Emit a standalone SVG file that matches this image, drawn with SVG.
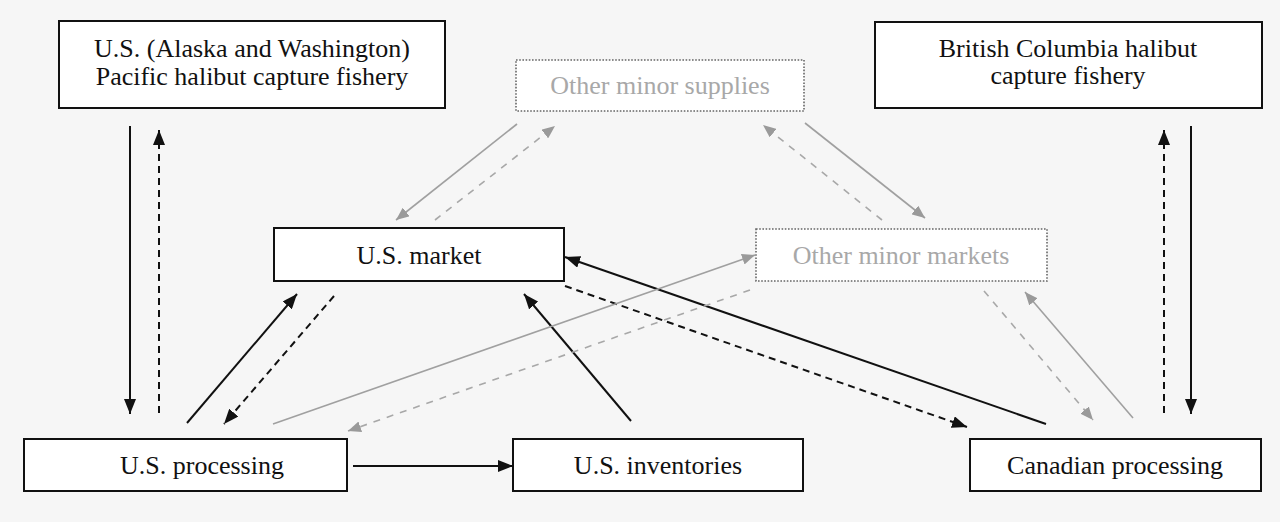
<svg xmlns="http://www.w3.org/2000/svg" width="1280" height="522" viewBox="0 0 1280 522">
<defs>
<style>
.box{fill:#ffffff;stroke:#111;stroke-width:2}
.dbox{fill:#ffffff;stroke:#666;stroke-width:1.6;stroke-dasharray:1.6 1.6}
.t{font-family:"Liberation Serif","Times New Roman",serif;font-size:26px;fill:#111;text-anchor:middle}
.tg{font-family:"Liberation Serif","Times New Roman",serif;font-size:26px;fill:#a8a8a8;text-anchor:middle}
.s{stroke:#111;stroke-width:2;fill:none;marker-end:url(#ab)}
.d{stroke:#111;stroke-width:2;fill:none;stroke-dasharray:7 5;marker-end:url(#ab)}
.gs{stroke:#a0a0a0;stroke-width:1.6;fill:none;marker-end:url(#ag)}
.gd{stroke:#a8a8a8;stroke-width:1.6;fill:none;stroke-dasharray:7 7;marker-end:url(#ag)}
</style>
<marker id="ab" markerUnits="userSpaceOnUse" markerWidth="15" markerHeight="12" refX="15" refY="6" orient="auto">
<path d="M0,0 L15,6 L0,12 z" fill="#111"/>
</marker>
<marker id="ag" markerUnits="userSpaceOnUse" markerWidth="13" markerHeight="11" refX="13" refY="5.5" orient="auto">
<path d="M0,0 L13,5.5 L0,11 z" fill="#9a9a9a"/>
</marker>
</defs>
<rect x="0" y="0" width="1280" height="522" fill="#f6f6f6"/>
<g id="connectors">
<line class="s" x1="130" y1="126" x2="130" y2="414"/>
<line class="d" x1="159" y1="413" x2="159" y2="130"/>
<line class="s" x1="1191" y1="126" x2="1191" y2="414"/>
<line class="d" x1="1164" y1="413" x2="1164" y2="130"/>
<line class="s" x1="187" y1="423" x2="297" y2="294"/>
<line class="d" x1="334" y1="296" x2="224" y2="424"/>
<line class="s" x1="353" y1="466" x2="513" y2="466"/>
<line class="s" x1="631" y1="421" x2="524" y2="294"/>
<line class="s" x1="1046" y1="424" x2="565" y2="257"/>
<line class="d" x1="565" y1="286" x2="967" y2="427"/>
<line class="gs" x1="273" y1="424" x2="755" y2="255"/>
<line class="gd" x1="750" y1="290" x2="348" y2="431"/>
<line class="gd" x1="984" y1="291" x2="1093" y2="420"/>
<line class="gs" x1="1133" y1="418" x2="1025" y2="292"/>
<line class="gs" x1="517" y1="124" x2="396" y2="220"/>
<line class="gd" x1="435" y1="220" x2="555" y2="126"/>
<line class="gd" x1="882" y1="220" x2="763" y2="125"/>
<line class="gs" x1="805" y1="123" x2="925" y2="218"/>
</g>
<g id="us-fishery">
<rect class="box" x="59" y="21" width="386" height="87"/>
<text class="t" x="252" y="57">U.S. (Alaska and Washington)</text>
<text class="t" x="252" y="85">Pacific halibut capture fishery</text>
</g>
<g id="other-supplies">
<rect class="dbox" x="516" y="60" width="288" height="51"/>
<text class="tg" x="660" y="94">Other minor supplies</text>
</g>
<g id="bc-fishery">
<rect class="box" x="875" y="22" width="387" height="86"/>
<text class="t" x="1068" y="57">British Columbia halibut</text>
<text class="t" x="1068" y="84">capture fishery</text>
</g>
<g id="us-market">
<rect class="box" x="274" y="228" width="290" height="53"/>
<text class="t" x="419" y="264">U.S. market</text>
</g>
<g id="other-markets">
<rect class="dbox" x="756" y="229" width="291" height="52"/>
<text class="tg" x="901" y="264">Other minor markets</text>
</g>
<g id="us-processing">
<rect class="box" x="24" y="439" width="323" height="52"/>
<text class="t" x="202" y="474">U.S. processing</text>
</g>
<g id="us-inventories">
<rect class="box" x="513" y="439" width="290" height="52"/>
<text class="t" x="658" y="474">U.S. inventories</text>
</g>
<g id="canadian-processing">
<rect class="box" x="970" y="439" width="291" height="52"/>
<text class="t" x="1115" y="474">Canadian processing</text>
</g>
</svg>
